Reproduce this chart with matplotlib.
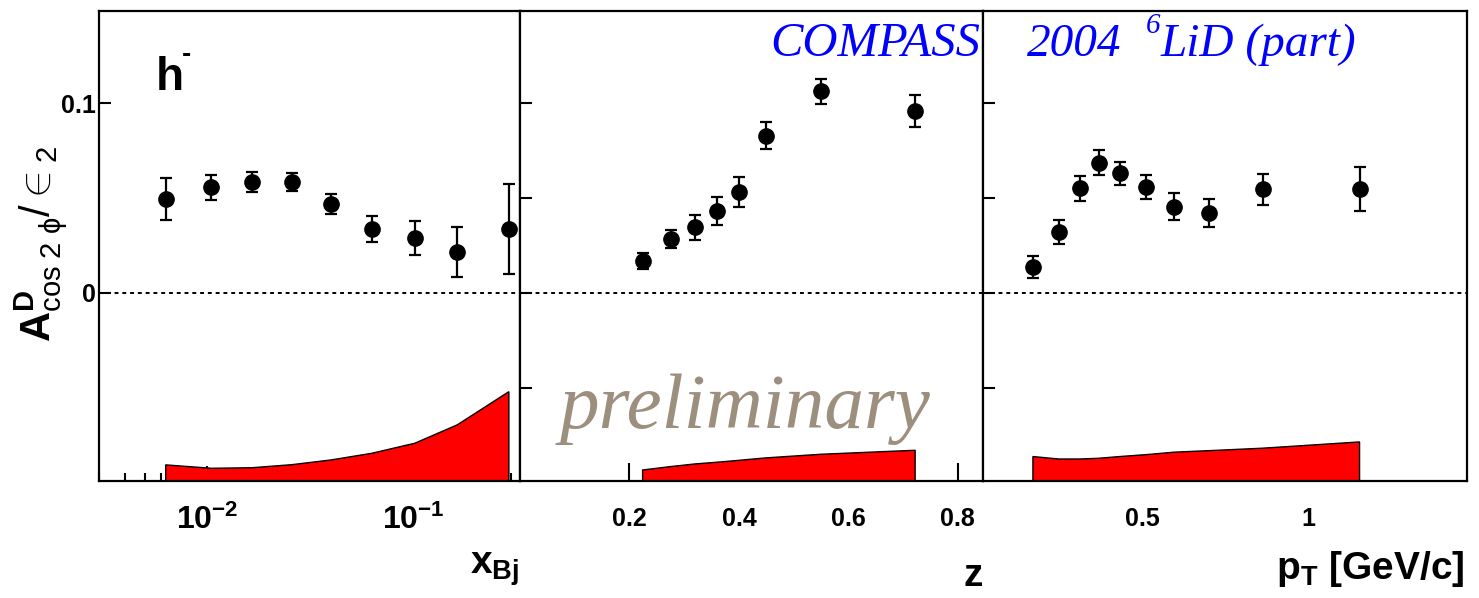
import numpy as np
import matplotlib
matplotlib.use("Agg")
import matplotlib.pyplot as plt
from matplotlib.ticker import FixedLocator, NullFormatter, LogLocator

plt.rcParams['font.family'] = ['Liberation Sans', 'DejaVu Sans']
plt.rcParams['mathtext.fontset'] = 'custom'
plt.rcParams['mathtext.rm'] = 'Liberation Sans'
plt.rcParams['mathtext.bf'] = 'Liberation Sans:bold'
plt.rcParams['mathtext.it'] = 'Liberation Sans:italic'
plt.rcParams['mathtext.sf'] = 'Liberation Sans'

# ---- A_cos2phi / eps2 for negative hadrons vs x_Bj ----
x_bj = [0.0063, 0.0105, 0.0165, 0.0258, 0.040, 0.063, 0.102, 0.164, 0.292]
a_xbj = [0.0494, 0.0556, 0.0585, 0.0584, 0.0466, 0.0336, 0.0288, 0.0215, 0.0336]
e_xbj = [0.0110, 0.0065, 0.0053, 0.0047, 0.0053, 0.0067, 0.0088, 0.0130, 0.0235]
sys_xbj = [0.0092, 0.0074, 0.0077, 0.0093, 0.0118, 0.0153, 0.0206, 0.0303, 0.0478]

# ---- vs z ----
z_val = [0.224, 0.275, 0.320, 0.360, 0.400, 0.450, 0.550, 0.722]
a_z = [0.0166, 0.0283, 0.0345, 0.0429, 0.0532, 0.0828, 0.1062, 0.0958]
e_z = [0.0043, 0.0047, 0.0065, 0.0074, 0.0080, 0.0071, 0.0065, 0.0083]
sys_z = [0.0065, 0.0083, 0.0097, 0.0106, 0.0116, 0.0129, 0.0148, 0.0169]

# ---- vs p_T ----
pt_val = [0.168, 0.246, 0.311, 0.368, 0.431, 0.510, 0.595, 0.700, 0.863, 1.156]
a_pt = [0.0135, 0.0318, 0.0550, 0.0685, 0.0629, 0.0557, 0.0453, 0.0419, 0.0545, 0.0548]
e_pt = [0.0060, 0.0063, 0.0066, 0.0066, 0.0062, 0.0063, 0.0071, 0.0075, 0.0080, 0.0116]
sys_pt = [0.0136, 0.0123, 0.0123, 0.0127, 0.0136, 0.0146, 0.0159, 0.0167, 0.0180, 0.0213]

band_base = -0.1
y_range = (-0.0993, 0.1488)

W, H = 1479, 598
fig = plt.figure(figsize=(W / 100, H / 100), dpi=100)

def frac_box(x0, x1, y_top=10.5, y_bot=481):
    return [x0 / W, 1 - y_bot / H, (x1 - x0) / W, (y_bot - y_top) / H]

ax1 = fig.add_axes(frac_box(99, 520))
ax2 = fig.add_axes(frac_box(520, 983))
ax3 = fig.add_axes(frac_box(983, 1467))

panels = [
    (ax1, x_bj, a_xbj, e_xbj, sys_xbj),
    (ax2, z_val, a_z, e_z, sys_z),
    (ax3, pt_val, a_pt, e_pt, sys_pt),
]

for ax, xv, yv, ev, sv in panels:
    ax.set_axisbelow(True)
    xv = np.asarray(xv)
    top = band_base + np.asarray(sv)
    ax.fill(np.r_[xv[0], xv, xv[-1]], np.r_[band_base, top, band_base],
            facecolor='#ff0000', edgecolor='black', linewidth=1.0, zorder=1)
    ax.axhline(0, color='black', lw=1.4, ls=(0, (2.0, 2.0)), zorder=1.5)
    ax.errorbar(xv, yv, yerr=ev, fmt='o', color='black', ms=11,
                elinewidth=1.6, capsize=4.5, capthick=1.6, zorder=3)
    ax.set_ylim(*y_range)
    for s in ax.spines.values():
        s.set_linewidth(1.6)
    ax.tick_params(axis='both', which='both', direction='in', width=1.5,
                   top=False, right=False)
    ax.tick_params(axis='y', which='major', length=8.5)
    ax.tick_params(axis='x', labelsize=18, pad=19)

# panel 1: log x axis
ax1.set_xscale('log')
ax1.set_xlim(0.00299, 0.3307)
ax1.xaxis.set_major_locator(FixedLocator([0.01, 0.1]))
ax1.xaxis.set_minor_locator(LogLocator(base=10, subs=np.arange(2, 10)))
ax1.xaxis.set_minor_formatter(NullFormatter())
ax1.set_xticklabels([r'$\mathbf{10^{-2}}$', r'$\mathbf{10^{-1}}$'])
ax1.tick_params(axis='x', which='major', length=11, labelsize=23, pad=17)
ax1.tick_params(axis='x', which='minor', length=6)
ax1.set_yticks([0, 0.1])
ax1.set_yticklabels(['0', '0.1'])
ax1.tick_params(axis='y', labelsize=18, pad=2)
for lab in ax1.get_yticklabels():
    lab.set_fontweight('bold')

# panel 2: z
ax2.set_xlim(0.0, 0.846)
ax2.set_xticks([0.2, 0.4, 0.6, 0.8])
ax2.set_xticklabels(['0.2', '0.4', '0.6', '0.8'])
ax2.tick_params(axis='x', which='major', length=13)
ax2.set_yticks([-0.05, 0, 0.05, 0.1])
ax2.tick_params(axis='y', labelleft=False)

# panel 3: p_T
ax3.set_xlim(0.017, 1.481)
ax3.set_xticks([0.5, 1.0])
ax3.set_xticklabels(['0.5', '1'])
ax3.tick_params(axis='x', which='major', length=13)
ax3.set_yticks([-0.05, 0, 0.05, 0.1])
ax3.tick_params(axis='y', labelleft=False)

for ax in (ax1, ax2, ax3):
    for lab in ax.get_xticklabels():
        lab.set_fontweight('bold')

def fx(px):
    return px / W

def fy(py):
    return 1 - py / H

# axis titles
fig.text(fx(519), fy(574), r'$\mathbf{x}_{\mathbf{Bj}}$', fontsize=28,
         ha='right', va='baseline')
fig.text(fx(983), fy(586), 'z', fontsize=28, fontweight='bold',
         ha='right', va='baseline')
fig.text(fx(1464), fy(579), r'$\mathbf{p}_{\mathbf{T}}\ \mathbf{[GeV/c]}$',
         fontsize=28, ha='right', va='baseline')

# y-axis title
fig.text(fx(41), fy(244),
         r'$\mathbf{A}^{\mathbf{D}}_{\mathrm{cos\ 2\ \phi}}/\in_{2}$',
         fontsize=30, rotation=90, ha='center', va='center')

# hadron charge label
fig.text(fx(156), fy(90), 'h', fontsize=33, fontweight='bold',
         ha='left', va='baseline')
fig.text(fx(182), fy(62), '-', fontsize=20, fontweight='bold',
         ha='left', va='baseline')

# experiment labels
blue = '#0000ff'
fig.text(fx(980), fy(56), 'COMPASS', fontsize=35, color=blue,
         family='Liberation Serif', style='italic', ha='right', va='baseline')
fig.text(fx(1027), fy(56), '2004', fontsize=34, color=blue,
         family='Liberation Serif', style='italic', ha='left', va='baseline')
fig.text(fx(1146), fy(33), '6', fontsize=21, color=blue,
         family='Liberation Serif', style='italic', ha='left', va='baseline')
fig.text(fx(1161), fy(56), 'LiD (part)', fontsize=34, color=blue,
         family='Liberation Serif', style='italic', ha='left', va='baseline')

fig.text(fx(560), fy(428), 'preliminary', fontsize=57, color='#9d8f7e',
         family='Liberation Serif', style='italic', ha='left', va='baseline')

fig.savefig('out.png', dpi=100)
